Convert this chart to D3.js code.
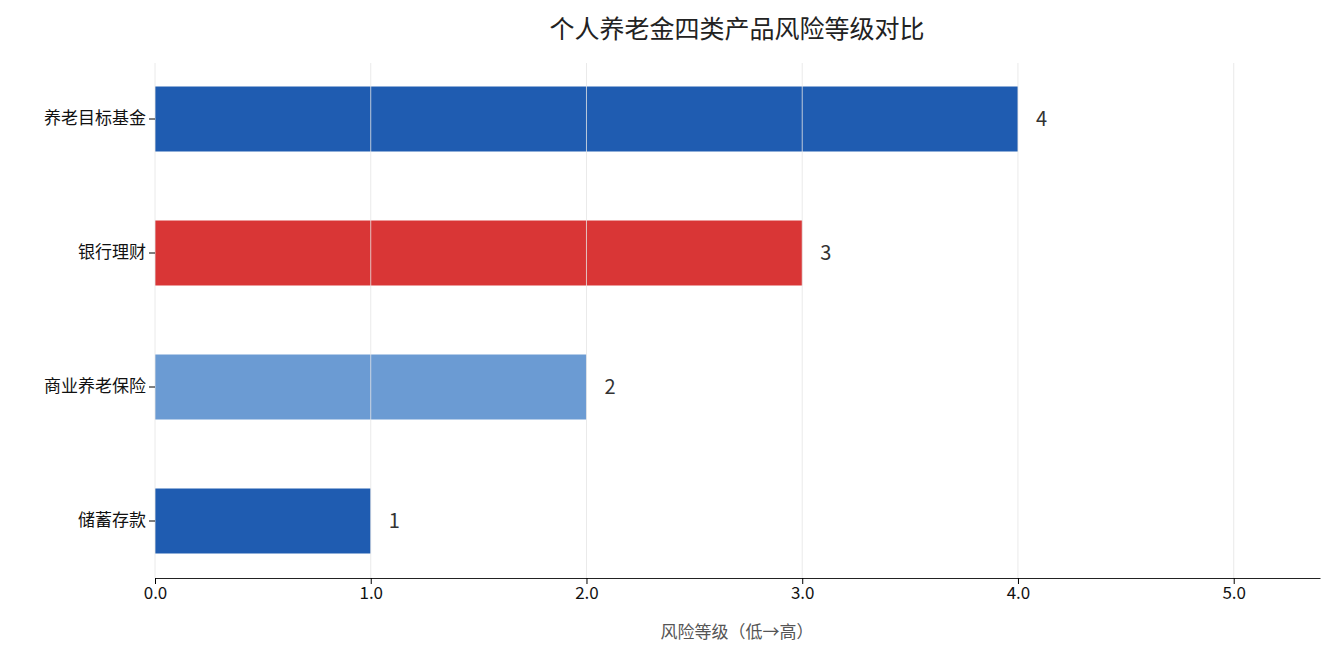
<!DOCTYPE html><html><head><meta charset="utf-8"><script src="https://cdn.jsdelivr.net/npm/d3@7"></script>
<style>body{margin:0;background:#fff}text{font-family:"Noto Sans CJK SC","Noto Sans",sans-serif}</style></head><body><svg id="c" width="1334" height="660"></svg><script>
const categories=["养老目标基金","银行理财","商业养老保险","储蓄存款"];
const values=[4,3,2,1];
const colors=["#1f5cb1","#d93636","#6b9bd3","#1f5cb1"];
const ticks=[0,1,2,3,4,5];
const svg=d3.select("#c");
const x=d3.scaleLinear().domain([0,5.4]).range([155,1320]);
const y=d3.scaleBand().domain(categories).range([52,588]).paddingInner(0.515).paddingOuter(0.2575);
svg.selectAll(".bar").data(categories).join("rect").attr("x",x(0)).attr("y",d=>y(d)).attr("width",(d,i)=>x(values[i])-x(0)).attr("height",y.bandwidth()).attr("fill",(d,i)=>colors[i]);
svg.selectAll(".g").data(ticks).join("line").attr("x1",d=>x(d)).attr("x2",d=>x(d)).attr("y1",63).attr("y2",578).attr("stroke","#e6e6e6").attr("stroke-width",1).attr("opacity",0.8);
svg.selectAll(".v").data(categories).join("text").attr("x",(d,i)=>x(values[i])+18).attr("y",d=>y(d)+y.bandwidth()/2).attr("dy","0.35em").attr("font-size",20).attr("fill","#333").text((d,i)=>values[i]);
const xa=svg.append("g").attr("transform","translate(0,578)").call(d3.axisBottom(x).tickValues(ticks).tickSize(6).tickSizeOuter(0));
xa.select(".domain").attr("stroke","#222");xa.selectAll("text").attr("font-size",17).attr("fill","#111");
const ya=svg.append("g").attr("transform","translate(155,0)").call(d3.axisLeft(y).tickSize(6));
ya.select(".domain").remove();ya.selectAll("text").attr("font-size",17).attr("fill","#111");
svg.append("text").attr("x",737).attr("y",638).attr("text-anchor","middle").attr("font-size",17).attr("fill","#555").text("风险等级（低→高）");
svg.append("text").attr("x",737).attr("y",38).attr("text-anchor","middle").attr("font-size",25).attr("fill","#222").text("个人养老金四类产品风险等级对比");
</script></body></html>
